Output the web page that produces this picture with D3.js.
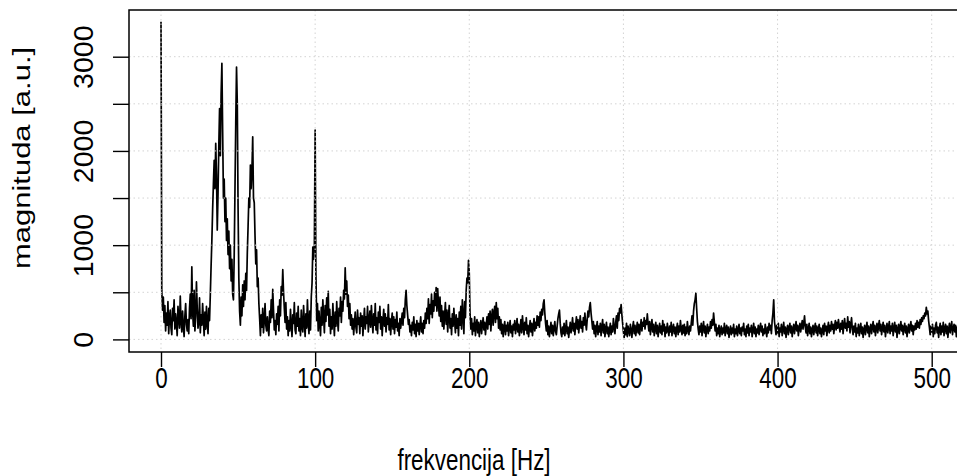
<!DOCTYPE html>
<html>
<head>
<meta charset="utf-8">
<script src="https://cdn.jsdelivr.net/npm/d3@7"></script>
<style>
  html, body { margin: 0; padding: 0; background: #ffffff; }
  svg { display: block; }
  text { font-family: "Liberation Sans", Arial, sans-serif; fill: #000; }
</style>
</head>
<body>
<svg id="chart" width="957" height="476"></svg>
<script>
// Amplitude spectrum, one value every 0.5 Hz, split into 100 Hz blocks.
const FREQ_STEP = 0.5;

const mag0to100 = [
  3370, 520, 310, 450, 180, 360, 90, 280, 150, 400, 60, 240, 310, 120, 50, 330, 200, 420, 110, 270,       // 0 Hz
  170, 40, 350, 230, 120, 460, 190, 80, 300, 140, 30, 250, 380, 160, 90, 210, 60, 330, 480, 220,          // 10 Hz
  770, 300, 140, 520, 90, 250, 610, 330, 120, 180, 440, 70, 260, 150, 380, 210, 40, 290, 110, 350,        // 20 Hz
  170, 60, 330, 200, 480, 780, 1050, 1380, 1650, 1900, 1600, 2080, 1750, 1160, 1550, 2050, 2450, 1950, 2600, 2930, // 30 Hz
  2200, 1500, 1700, 1250, 1500, 1050, 1280, 900, 1150, 750, 1000, 620, 850, 480, 420, 900, 1600, 2300, 2890, 2500,  // 40 Hz
  1400, 650, 300, 150, 450, 250, 580, 350, 620, 420, 700, 520, 920, 1200, 1500, 1400, 1850, 1600, 1800, 2150,      // 50 Hz
  1500, 1450, 1100, 800, 950, 560, 650, 380, 220, 40, 260, 130, 330, 70, 200, 380, 150, 90, 240, 110,     // 60 Hz
  40, 300, 180, 420, 230, 530, 310, 100, 200, 50, 270, 160, 350, 90, 420, 250, 560, 470, 740, 500,        // 70 Hz
  330, 180, 390, 110, 240, 40, 200, 90, 320, 150, 30, 260, 170, 390, 100, 60, 280, 140, 350, 90,          // 80 Hz
  220, 40, 310, 130, 80, 360, 190, 30, 270, 120, 420, 170, 60, 300, 100, 450, 600, 980, 850, 1000         // 90 Hz
];

const mag100to200 = [
  2220, 700, 200, 380, 90, 300, 160, 40, 340, 150, 420, 230, 70, 360, 190, 440, 260, 510, 140, 320,       // 100 Hz
  60, 240, 110, 380, 190, 40, 290, 140, 400, 210, 90, 330, 250, 450, 180, 400, 300, 520, 430, 760,        // 110 Hz
  480, 620, 350, 470, 220, 380, 150, 260, 110, 220, 50, 180, 290, 120, 70, 310, 160, 230, 60, 280,        // 120 Hz
  140, 250, 40, 200, 330, 110, 240, 170, 350, 80, 210, 300, 130, 360, 190, 70, 270, 150, 380, 100,        // 130 Hz
  230, 60, 290, 180, 350, 110, 240, 40, 200, 320, 140, 270, 80, 230, 160, 370, 100, 220, 50, 190,         // 140 Hz
  280, 110, 240, 60, 210, 130, 290, 90, 170, 40, 220, 120, 200, 280, 150, 330, 230, 420, 520, 360,        // 150 Hz
  260, 160, 210, 80, 150, 40, 180, 100, 240, 60, 160, 30, 200, 90, 170, 50, 150, 240, 80, 170,            // 160 Hz
  60, 200, 120, 280, 170, 330, 220, 430, 170, 370, 270, 480, 230, 410, 300, 500, 360, 550, 300, 540,      // 170 Hz
  380, 250, 450, 190, 360, 140, 300, 110, 250, 390, 160, 310, 80, 250, 360, 120, 220, 50, 270, 140,       // 180 Hz
  330, 190, 70, 260, 120, 220, 40, 290, 150, 350, 110, 420, 250, 60, 400, 230, 520, 650, 600, 840         // 190 Hz
];

const mag200to300 = [
  700, 260, 110, 220, 50, 170, 90, 240, 40, 150, 210, 70, 180, 30, 140, 200, 60, 160, 230, 100,           // 200 Hz
  180, 50, 150, 240, 110, 270, 160, 300, 90, 240, 320, 150, 280, 350, 180, 390, 220, 330, 120, 240,       // 210 Hz
  100, 210, 60, 160, 30, 130, 190, 50, 150, 90, 180, 40, 120, 200, 70, 140, 30, 160, 100, 200,            // 220 Hz
  60, 130, 220, 80, 160, 40, 110, 210, 70, 250, 140, 50, 180, 100, 230, 60, 150, 30, 120, 200,            // 230 Hz
  80, 170, 40, 140, 220, 90, 180, 120, 250, 150, 240, 130, 290, 200, 320, 260, 380, 420, 280, 170,        // 240 Hz
  90, 200, 50, 140, 30, 110, 180, 60, 150, 40, 120, 190, 80, 50, 140, 220, 270, 310, 170, 70,             // 250 Hz
  30, 130, 60, 170, 40, 110, 200, 60, 130, 20, 100, 180, 70, 140, 230, 90, 170, 50, 150, 240,             // 260 Hz
  110, 210, 70, 160, 250, 120, 190, 80, 230, 150, 280, 170, 100, 210, 300, 240, 340, 390, 280, 200,       // 270 Hz
  110, 190, 60, 150, 30, 120, 190, 50, 140, 80, 170, 40, 130, 210, 70, 160, 30, 110, 180, 60,             // 280 Hz
  130, 30, 100, 170, 50, 140, 80, 220, 130, 60, 180, 250, 120, 280, 200, 330, 280, 370, 260, 170          // 290 Hz
];

const mag300to400 = [
  80, 20, 120, 50, 170, 30, 140, 90, 40, 160, 100, 20, 130, 190, 60, 150, 40, 110, 180, 70,               // 300 Hz
  160, 50, 130, 210, 90, 180, 140, 230, 110, 200, 160, 270, 170, 90, 190, 50, 140, 210, 80, 160,          // 310 Hz
  40, 120, 180, 60, 150, 30, 110, 170, 70, 140, 50, 200, 90, 160, 30, 130, 70, 170, 100, 40,              // 320 Hz
  140, 80, 180, 40, 120, 160, 60, 130, 30, 110, 170, 50, 140, 80, 200, 110, 50, 150, 70, 160,             // 330 Hz
  40, 130, 60, 190, 100, 50, 140, 90, 170, 250, 150, 300, 380, 420, 490, 330, 190, 110, 50, 140,          // 340 Hz
  80, 170, 40, 120, 190, 70, 140, 30, 110, 160, 60, 130, 90, 190, 120, 210, 150, 280, 180, 90,            // 350 Hz
  160, 40, 120, 60, 150, 30, 100, 140, 50, 120, 70, 170, 40, 110, 150, 60, 130, 20, 90, 140,              // 360 Hz
  50, 120, 70, 160, 30, 110, 60, 140, 40, 100, 160, 60, 120, 40, 130, 90, 170, 50, 110, 30,               // 370 Hz
  140, 70, 160, 40, 120, 80, 150, 30, 100, 170, 60, 130, 30, 110, 70, 150, 50, 120, 170, 80,              // 380 Hz
  140, 40, 110, 60, 160, 90, 30, 130, 70, 170, 100, 150, 60, 200, 280, 420, 190, 120, 50, 150             // 390 Hz
];

const mag400to520 = [
  70, 170, 30, 120, 80, 160, 40, 110, 180, 60, 130, 20, 100, 150, 50, 120, 170, 70, 140, 30,              // 400 Hz
  110, 160, 60, 130, 190, 90, 150, 40, 120, 170, 80, 140, 200, 110, 170, 250, 130, 70, 160, 40,           // 410 Hz
  110, 170, 60, 130, 30, 100, 150, 50, 120, 170, 70, 140, 40, 110, 160, 60, 120, 30, 90, 150,             // 420 Hz
  50, 170, 90, 140, 40, 120, 180, 70, 150, 90, 190, 110, 160, 60, 140, 200, 100, 180, 120, 210,           // 430 Hz
  140, 80, 170, 110, 200, 60, 150, 220, 120, 170, 90, 240, 130, 190, 70, 160, 230, 110, 50, 140,          // 440 Hz
  80, 170, 30, 120, 70, 160, 40, 110, 170, 60, 130, 20, 100, 150, 50, 120, 180, 70, 140, 30,              // 450 Hz
  110, 160, 60, 130, 190, 80, 150, 40, 120, 170, 70, 140, 200, 90, 160, 50, 120, 180, 80, 150,            // 460 Hz
  30, 110, 170, 70, 130, 190, 60, 140, 90, 170, 40, 120, 180, 80, 150, 20, 110, 160, 60, 130,             // 470 Hz
  190, 90, 150, 50, 120, 170, 70, 140, 30, 110, 160, 70, 130, 190, 90, 150, 50, 140, 100, 170,            // 480 Hz
  110, 200, 130, 180, 120, 210, 160, 230, 190, 250, 220, 280, 250, 340, 270, 300, 200, 130, 50, 140,      // 490 Hz
  80, 160, 30, 120, 60, 150, 180, 70, 130, 20, 110, 170, 50, 140, 80, 180, 40, 120, 160, 60,              // 500 Hz
  140, 20, 110, 170, 70, 130, 190, 50, 120, 160, 80, 150, 30, 130, 70, 170, 90, 50, 140, 80               // 510 Hz
];

const xTicks = [0, 100, 200, 300, 400, 500];
const yTicks = [0, 500, 1000, 1500, 2000, 2500, 3000];
const yLabelled = [0, 1000, 2000, 3000];
const xTitle = "frekvencija [Hz]";
const yTitle = "magnituda [a.u.]";

const magnitude = [].concat(mag0to100, mag100to200, mag200to300, mag300to400, mag400to520);
const spectrum = magnitude.map((v, i) => ({ f: i * FREQ_STEP, v }));

// Plot frame (the right edge lies past the visible canvas).
const frame = { left: 129, top: 10, right: 993, bottom: 352 };
// Lettering: tall glyphs, horizontally narrowed on screen.
const FONT = 29.5, NARROW = 0.76;

const x = d3.scaleLinear().domain([0, 500]).range([161, 931.7]);
const y = d3.scaleLinear().domain([0, 3000]).range([339.4, 56.7]);

const svg = d3.select("#chart");
svg.append("rect").attr("width", 957).attr("height", 476).attr("fill", "#fff");

svg.append("defs").append("clipPath").attr("id", "plotClip")
  .append("rect")
  .attr("x", frame.left).attr("y", frame.top)
  .attr("width", frame.right - frame.left).attr("height", frame.bottom - frame.top);

// Spectrum trace
const line = d3.line().x(d => x(d.f)).y(d => y(d.v));
svg.append("path")
  .datum(spectrum)
  .attr("clip-path", "url(#plotClip)")
  .attr("fill", "none")
  .attr("stroke", "#000")
  .attr("stroke-width", 1.7)
  .attr("stroke-linejoin", "round")
  .attr("d", line);

// Dotted light-grey grid drawn over the trace
const grid = svg.append("g").attr("clip-path", "url(#plotClip)")
  .attr("stroke", "#d3d3d3").attr("stroke-width", 1).attr("stroke-dasharray", "1.5,3");
grid.selectAll("line.v").data(xTicks).join("line").attr("class", "v")
  .attr("x1", d => x(d)).attr("x2", d => x(d))
  .attr("y1", frame.top).attr("y2", frame.bottom);
grid.selectAll("line.h").data(yTicks).join("line").attr("class", "h")
  .attr("x1", frame.left).attr("x2", frame.right)
  .attr("y1", d => y(d)).attr("y2", d => y(d));

// Frame
svg.append("rect")
  .attr("x", frame.left).attr("y", frame.top)
  .attr("width", frame.right - frame.left).attr("height", frame.bottom - frame.top)
  .attr("fill", "none").attr("stroke", "#000").attr("stroke-width", 1.5);

// X axis
const xAxis = svg.append("g")
  .attr("transform", `translate(0,${frame.bottom})`)
  .call(d3.axisBottom(x).tickValues(xTicks).tickSize(15).tickFormat(d3.format("d")));
xAxis.select(".domain").remove();
xAxis.selectAll(".tick line").attr("stroke", "#000").attr("stroke-width", 1.4);
xAxis.selectAll(".tick text")
  .attr("font-family", "Liberation Sans, Arial, sans-serif")
  .attr("font-size", FONT)
  .attr("y", 0).attr("dy", 0)
  .attr("transform", `translate(0,36) scale(${NARROW},1)`);

// Y axis: labels run parallel to the axis
const yAxis = svg.append("g")
  .attr("transform", `translate(${frame.left},0)`)
  .call(d3.axisLeft(y).tickValues(yTicks).tickSize(16)
    .tickFormat(d => yLabelled.includes(d) ? d3.format("d")(d) : ""));
yAxis.select(".domain").remove();
yAxis.selectAll(".tick line").attr("stroke", "#000").attr("stroke-width", 1.4);
yAxis.selectAll(".tick text")
  .attr("font-family", "Liberation Sans, Arial, sans-serif")
  .attr("font-size", 28.5)
  .attr("text-anchor", "middle")
  .attr("x", 0).attr("y", 0).attr("dy", 0)
  .attr("transform", "translate(-36,0) rotate(-90)");

// Axis titles
svg.append("text")
  .attr("transform", `translate(474,470) scale(${NARROW},1)`)
  .attr("text-anchor", "middle")
  .attr("font-size", FONT)
  .text(xTitle);

svg.append("text")
  .attr("transform", `translate(30,158) scale(${NARROW},1) rotate(-90)`)
  .attr("text-anchor", "middle")
  .attr("font-size", 31)
  .text(yTitle);
</script>
</body>
</html>
